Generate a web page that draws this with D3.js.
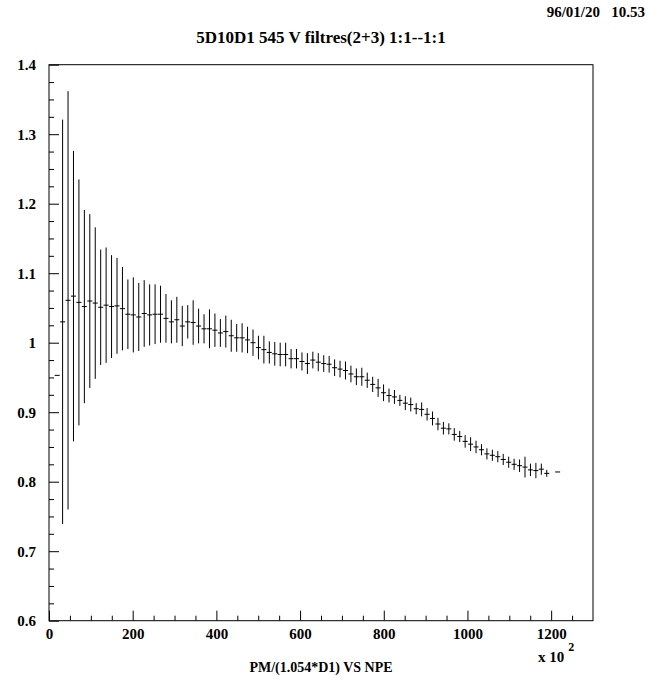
<!DOCTYPE html>
<html>
<head>
<meta charset="utf-8">
<script src="https://cdn.jsdelivr.net/npm/d3@7"></script>
<style>
  html, body { margin: 0; padding: 0; background: #fff; }
  svg text { font-family: "Liberation Serif", "Times New Roman", serif; font-weight: bold; fill: #000; }
</style>
</head>
<body>
<svg id="chart" width="647" height="677"></svg>
<script>
// ---- data ----
const titleText = "5D10D1 545 V filtres(2+3) 1:1--1:1";
const dateText = "96/01/20   10.53";
const xAxisTitle = "PM/(1.054*D1) VS NPE";
const binWidth = 13;
// bin index (centre = index*13 + 6.5)
const binIndex = [1,2,3,4,5,6,7,8,9,10,11,12,13,14,15,16,17,18,19,20,21,22,23,24,25,26,27,28,29,30,
  31,32,33,34,35,36,37,38,39,40,41,42,43,44,45,46,47,48,49,50,51,52,53,54,55,56,57,58,59,60,
  61,62,63,64,65,66,67,68,69,70,71,72,73,74,75,76,77,78,79,80,81,82,83,84,85,86,87,88,89,90,91,93];
const values = [0.953,1.030,1.061,1.067,1.058,1.052,1.060,1.057,1.051,1.054,1.052,1.053,1.049,1.041,1.040,1.037,1.042,1.040,1.041,1.041,
  1.035,1.030,1.033,1.024,1.030,1.029,1.024,1.020,1.020,1.018,1.014,1.016,1.010,1.007,1.007,1.004,1.000,0.993,0.990,0.986,
  0.984,0.983,0.983,0.977,0.977,0.973,0.970,0.975,0.972,0.970,0.969,0.964,0.962,0.960,0.955,0.951,0.951,0.946,0.940,0.935,
  0.928,0.924,0.922,0.917,0.913,0.911,0.905,0.904,0.897,0.891,0.883,0.877,0.876,0.868,0.865,0.858,0.854,0.850,0.846,0.840,
  0.838,0.836,0.832,0.828,0.825,0.823,0.821,0.817,0.816,0.818,0.812,0.814];
const errors = [0,0.291,0.301,0.209,0.177,0.139,0.125,0.109,0.083,0.083,0.074,0.069,0.060,0.050,0.054,0.049,0.048,0.044,0.043,0.041,
  0.035,0.031,0.033,0.029,0.024,0.032,0.025,0.021,0.028,0.024,0.020,0.023,0.023,0.020,0.021,0.019,0.019,0.017,0.020,0.016,
  0.017,0.017,0.017,0.014,0.014,0.013,0.015,0.012,0.013,0.012,0.012,0.012,0.012,0.013,0.012,0.012,0.013,0.011,0.011,0.013,
  0.012,0.010,0.010,0.008,0.010,0.010,0.008,0.010,0.009,0.010,0.009,0.009,0.008,0.009,0.008,0.009,0.010,0.009,0.008,0.008,
  0.008,0.008,0.008,0.008,0.008,0.009,0.015,0.009,0.011,0.008,0.005,0];
const xMajorTicks = [0,200,400,600,800,1000,1200];
const xTickLabels = ["0","200","400","600","800","1000","1200"];
const yMajorTicks = [0.6,0.7,0.8,0.9,1.0,1.1,1.2,1.3,1.4];
const yTickLabels = ["0.6","0.7","0.8","0.9","1","1.1","1.2","1.3","1.4"];

// ---- layout ----
const svg = d3.select("#chart");
const pL = 49, pR = 593, pT = 64.7, pB = 620.7;
const x = d3.scaleLinear().domain([0, 1300]).range([pL, pR]);
const y = d3.scaleLinear().domain([0.6, 1.4]).range([pB, pT]);

const xMinor = d3.range(0, 1300, 50).filter(v => v % 200 !== 0);
const yMinor = d3.range(0.6, 1.4001, 0.025).filter(v => Math.abs(v*10 - Math.round(v*10)) > 1e-6);

// frame
svg.append("rect").attr("x", pL).attr("y", pT).attr("width", pR-pL).attr("height", pB-pT)
  .attr("fill", "none").attr("stroke", "#000").attr("stroke-width", 1);

// x axis
const gx = svg.append("g").attr("transform", `translate(0,${pB})`);
gx.call(d3.axisBottom(x).tickValues(xMajorTicks).tickSize(-10).tickPadding(8)
  .tickFormat((d,i) => xTickLabels[i]));
const gxm = svg.append("g").attr("transform", `translate(0,${pB})`);
gxm.call(d3.axisBottom(x).tickValues(xMinor).tickSize(-5).tickFormat(""));

// y axis
const gy = svg.append("g").attr("transform", `translate(${pL},0)`);
gy.call(d3.axisLeft(y).tickValues(yMajorTicks).tickSize(-10).tickPadding(13)
  .tickFormat((d,i) => yTickLabels[i]));
const gym = svg.append("g").attr("transform", `translate(${pL},0)`);
gym.call(d3.axisLeft(y).tickValues(yMinor).tickSize(-5).tickFormat(""));

svg.selectAll(".domain").remove();
svg.selectAll(".tick line").attr("stroke", "#000");
svg.selectAll(".tick text").style("font-family", "'Liberation Serif', serif")
  .style("font-weight", "bold").style("font-size", "15px").attr("fill", "#000");

// data marks
const pts = binIndex.map((b, i) => ({c: b*binWidth + binWidth/2, v: values[i], e: errors[i]}));
const g = svg.append("g");
g.selectAll("line.v").data(pts.filter(d => d.e > 0)).join("line").attr("class", "v")
  .attr("x1", d => x(d.c)).attr("x2", d => x(d.c))
  .attr("y1", d => y(d.v - d.e)).attr("y2", d => y(d.v + d.e))
  .attr("stroke", "#000").attr("stroke-width", 1);
g.selectAll("line.h").data(pts).join("line").attr("class", "h")
  .attr("x1", d => x(d.c - 6)).attr("x2", d => x(d.c + 6))
  .attr("y1", d => y(d.v)).attr("y2", d => y(d.v))
  .attr("stroke", "#000").attr("stroke-width", 1);

// texts
svg.append("text").attr("x", 321).attr("y", 43).attr("text-anchor", "middle")
  .style("font-size", "17px").text(titleText);
svg.append("text").attr("x", 645).attr("y", 17).attr("text-anchor", "end")
  .style("font-size", "15px").style("white-space", "pre").attr("xml:space", "preserve").text(dateText);
svg.append("text").attr("x", 321).attr("y", 672).attr("text-anchor", "middle")
  .style("font-size", "14px").text(xAxisTitle);
const xs = svg.append("text").attr("x", 538).attr("y", 662).style("font-size", "15px");
xs.append("tspan").text("x 10");
xs.append("tspan").attr("dx", 4).attr("dy", -11).style("font-size", "12px").text("2");
</script>
</body>
</html>
